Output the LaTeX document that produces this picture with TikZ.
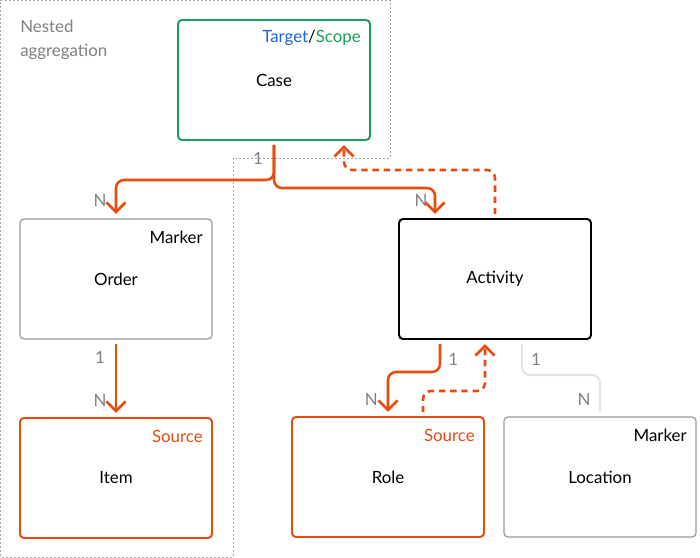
\documentclass[tikz,border=0pt]{standalone}
\usepackage{fontspec}
\setmainfont{Lato}
\usetikzlibrary{arrows.meta, positioning}

\definecolor{srcorange}{RGB}{232,74,16}
\definecolor{scopegreen}{RGB}{24,160,88}
\definecolor{targetblue}{RGB}{22,102,224}
\definecolor{labelgray}{RGB}{128,128,128}
\definecolor{boxgray}{RGB}{155,155,155}
\definecolor{faintgray}{RGB}{228,228,228}

\begin{document}
\begin{tikzpicture}[
    every node/.style={font=\fontsize{12}{17}\selectfont},
    block/.style={rectangle, draw, fill=white, rounded corners=0.1cm, align=center, minimum width=4.8cm, minimum height=3cm, inner sep=0pt, outer sep=0pt},
    scopeblock/.style={block, draw=scopegreen, line width=1.4pt},
    markerblock/.style={block, draw=boxgray, line width=0.9pt},
    sourceblock/.style={block, draw=srcorange, line width=1.4pt},
    mainblock/.style={block, draw=black, line width=1.4pt},
    tag/.style={anchor=east, inner sep=0pt},
    mult/.style={text=labelgray, inner sep=0pt},
    link/.style={line width=1.8pt, rounded corners=0.2cm, shorten <=1.2mm, shorten >=1.3mm},
    arrow/.style={link, draw=srcorange, -{Straight Barb[length=2.4mm, width=4.8mm]}},
    backarrow/.style={arrow, dash pattern=on 1.6mm off 1.2mm},
    faint/.style={link, draw=faintgray, line width=1.5pt}
]
\useasboundingbox (0,0) rectangle (17.5,-13.95);

% nested aggregation region
\draw[labelgray!70, line width=0.6pt, dash pattern=on 0.05cm off 0.05cm]
    (0.0125,-0.0125) -- (9.75,-0.0125) -- (9.75,-3.95) -- (5.825,-3.95)
    -- (5.825,-13.925) -- (0.0125,-13.925) -- cycle;
\node[text=labelgray, anchor=north west, align=left, inner sep=0pt] (nested) at (0.5,-0.5) {Nested\\aggregation};

\node[scopeblock] (case) at (6.85,-2) {Case};
\node[markerblock] (order) at (2.9,-6.975) {Order};
\node[sourceblock, below=1.975cm of order] (item) {Item};
\node[mainblock, right=4.675cm of order] (activity) {Activity};
\node[sourceblock, below=1.95cm of activity, xshift=-2.675cm] (role) {Role};
\node[markerblock, right=0.5cm of role] (location) {Location};

\node[tag] (case-tag) at ([xshift=-0.225cm, yshift=-0.45cm]case.north east) {\textcolor{targetblue}{Target}/\textcolor{scopegreen}{Scope}};
\node[tag] (order-tag) at ([xshift=-0.225cm, yshift=-0.45cm]order.north east) {Marker};
\node[tag, text=srcorange] (item-tag) at ([xshift=-0.225cm, yshift=-0.45cm]item.north east) {Source};
\node[tag, text=srcorange] (role-tag) at ([xshift=-0.225cm, yshift=-0.45cm]role.north east) {Source};
\node[tag] (location-tag) at ([xshift=-0.225cm, yshift=-0.45cm]location.north east) {Marker};

\draw[arrow] (case.south) -- ++(0,-1.0) node[mult, pos=0, xshift=-0.4cm, yshift=-0.45cm] (case-one) {1}
    -| (order.north) node[mult, pos=1, xshift=-0.4cm, yshift=0.47cm] (order-n) {N};
\draw[arrow] (case.south) -- ++(0,-1.2)
    -| ([xshift=-1.5cm]activity.north) node[mult, pos=1, xshift=-0.35cm, yshift=0.47cm] (activity-n) {N};
\draw[backarrow] (activity.north) -- ++(0,1.225) -| ([xshift=1.75cm]case.south);

\draw[arrow] (order.south) -- (item.north)
    node[mult, pos=0, xshift=-0.4cm, yshift=-0.47cm] (order-one) {1}
    node[mult, pos=1, xshift=-0.4cm, yshift=0.45cm] (item-n) {N};

\draw[arrow] ([xshift=-1.375cm]activity.south) -- ++(0,-0.825) node[mult, pos=0, xshift=0.33cm, yshift=-0.5cm] (activity-one) {1}
    -| (role.north) node[mult, pos=1, xshift=-0.42cm, yshift=0.43cm] (role-n) {N};
\draw[backarrow] ([xshift=0.875cm]role.north) -- ++(0,0.65) -| ([xshift=-0.25cm]activity.south);

\draw[faint] ([xshift=0.675cm]activity.south) -- ++(0,-0.9) node[mult, pos=0, xshift=0.35cm, yshift=-0.5cm] (activity-two) {1}
    -| (location.north) node[mult, pos=1, xshift=-0.4cm, yshift=0.45cm] (location-n) {N};

\end{tikzpicture}
\end{document}
